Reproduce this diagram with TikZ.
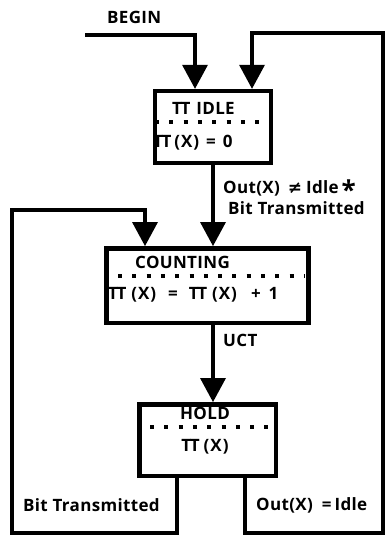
\documentclass[tikz,border=0pt]{standalone}
\usepackage{fontspec}
\setmainfont{Open Sans}[LetterSpace=2]
\newfontfamily\symfont{DejaVu Sans}
\usetikzlibrary{arrows.meta,calc}
\newcommand{\TTx}{T\kern-1.5pt T}
\newcommand{\gapx}[1]{\hspace{#1pt}}
\newcommand{\Xp}{(\kern1pt X\kern1pt)}
\newcommand{\bigast}{\raisebox{-6pt}[0pt][0pt]{\fontsize{26}{26}\selectfont *}}
\tikzset{
  wire/.style={line width=4.5pt},
  arr/.style={wire,-{Triangle[width=26pt,length=24pt,line width=0pt]}},
  state/.style={draw,line width=4.5pt,rectangle,inner sep=0pt},
  dots/.style={line width=4pt,dash pattern=on 4pt off 10.3pt},
  txt/.style={font=\bfseries\fontsize{17}{20}\selectfont,inner sep=0pt},
}
\begin{document}
\begin{tikzpicture}[x=1pt,y=-1pt]
\useasboundingbox (0,0) rectangle (387,536);
% states
\node[state,minimum width=116pt,minimum height=72pt] (idle) at (213,127) {};
\node[state,minimum width=202pt,minimum height=74.5pt] (count) at (207.5,285.5) {};
\node[state,minimum width=136.5pt,minimum height=71.5pt] (hold) at (207.5,440) {};
% state texts
\node[txt,anchor=west] (tidle) at (172,108) {\TTx\gapx{6}IDLE};
\draw[dots] (155,122) -- (273,122);
\node[txt,anchor=west] (aidle) at (153,143) {\TTx\gapx{3}\Xp\gapx{7}=\gapx{7}0};
\node[txt,anchor=west] (tcount) at (135,262) {COUNTING};
\draw[dots] (118,276) -- (305,276);
\node[txt,anchor=west] (acount) at (108,295) {\TTx\gapx{5}\Xp\gapx{12}=\gapx{11}\TTx\gapx{5}\Xp\gapx{14}+\gapx{8}1};
\node[txt] (thold) at (205,413) {HOLD};
\draw[dots] (150,427) -- (272,427);
\node[txt] (ahold) at (205,447) {\TTx\gapx{4}\Xp};
% labels
\node[txt,anchor=west,align=left,font=\bfseries\fontsize{17}{21.5}\selectfont] (l1) at (223,197.5) {Out(X)\gapx{8}{\symfont ≠}\gapx{4}Idle\gapx{3}\bigast\\\hspace*{5pt}Bit Transmitted};
\node[txt,anchor=west] (lbegin) at (107,17) {BEGIN};
\node[txt,anchor=west] (l3) at (223,340) {UCT};
\node[txt,anchor=west] (l4) at (23,505) {Bit Transmitted};
\node[txt,anchor=west] (l5) at (256,505) {Out(X)\gapx{9}=\gapx{3}Idle};
% connectors
\coordinate (b0) at (85,35);
\coordinate (rb) at (383,533);
\coordinate (rt) at (383,33);
\coordinate (lb) at (12,533);
\coordinate (lt) at (12,210);
\draw[arr] (b0) -| ([xshift=-18pt]idle.north);
\draw[arr] ([xshift=37.5pt]hold.south) |- (rb) -- (rt) -| ([xshift=39pt]idle.north);
\draw[arr] ([xshift=-30.5pt]hold.south) |- (lb) -- (lt) -| ([xshift=-62.5pt]count.north);
\draw[arr] (idle.south) -- (idle.south |- count.north);
\draw[arr] (count.south -| idle.south) -- (hold.north -| idle.south);
\end{tikzpicture}
\end{document}
